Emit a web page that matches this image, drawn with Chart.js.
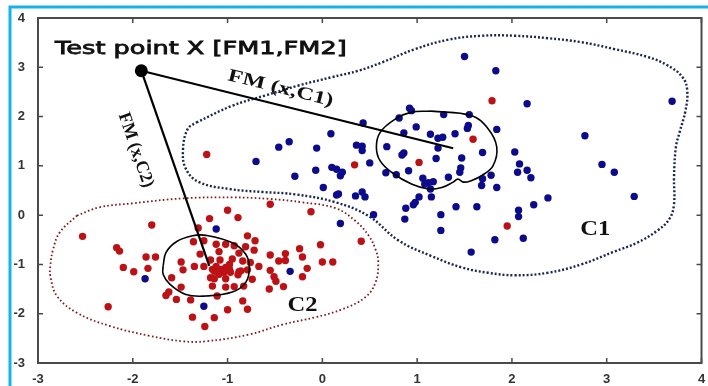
<!DOCTYPE html>
<html><head><meta charset="utf-8">
<script src="https://cdn.jsdelivr.net/npm/chart.js@4.4.1/dist/chart.umd.min.js"></script>
<style>html,body{margin:0;padding:0;background:#fff;overflow:hidden}canvas{display:block}</style>
</head><body>
<canvas id="c" width="708" height="386"></canvas>
<script>
const xTicks = [-3,-2,-1,0,1,2,3,4];
const yTicks = [-3,-2,-1,0,1,2,3,4];

const bluePoints = [
[1.50,3.22],[1.83,2.93],[2.16,2.26],[3.69,2.31],[0.92,2.17],[0.94,2.12],[0.81,1.97],[1.28,2.04],[1.55,2.04],[0.43,1.87],
[0.99,1.79],[1.54,1.82],[1.53,1.76],[1.84,1.74],[0.86,1.67],[1.14,1.64],[1.40,1.65],[1.22,1.56],[1.27,1.58],[2.77,1.61],
[0.36,1.42],[0.42,1.40],[0.42,1.31],[0.68,1.39],[1.22,1.36],[0.86,1.26],[0.84,1.22],[1.69,1.27],[2.03,1.28],[1.20,1.15],
[1.47,1.16],[0.50,1.06],[2.08,1.04],[2.95,1.03],[0.91,0.90],[1.46,0.96],[1.45,0.87],[0.67,0.86],[0.78,0.82],[2.06,0.87],
[2.16,0.91],[3.08,0.87],[1.78,0.81],[1.33,0.77],[1.06,0.75],[2.20,0.76],[1.69,0.74],[1.68,0.60],[1.08,0.63],[1.17,0.68],
[1.12,0.66],[1.84,0.56],[1.14,0.53],[0.42,0.47],[0.35,0.39],[0.45,0.37],[1.02,0.37],[1.15,0.37],[2.38,0.35],[3.29,0.38],
[0.54,0.01],[0.88,0.14],[0.98,0.26],[0.96,0.21],[0.87,-0.08],[1.25,0.01],[1.25,-0.31],[1.41,0.17],[1.63,0.17],[2.07,0.10],
[2.07,-0.03],[2.23,0.21],[1.82,-0.50],[2.12,-0.47],[1.57,-0.75],[0.15,0.41],[0.17,0.43],[0.19,-0.17],[0.09,1.65],[0.10,0.97],
[0.15,0.93],[0.21,0.87],[0.19,0.80],[-0.70,1.09],[-0.46,1.38],[-0.35,1.49],[-0.06,1.36],[-0.07,0.91],[-0.29,0.79],[0.01,0.56],
[-1.12,-0.28],[-1.87,-1.29],[-1.25,-1.85],[-0.34,-1.14]
];

const redPoints = [
[-1.22,1.23],[0.34,1.02],[1.02,1.07],[1.59,1.54],[1.79,2.32],[1.95,-0.22],[0.41,-0.53],
[-0.55,0.22],[-1.00,0.10],[-1.19,-0.07],[-0.89,-0.05],[-0.12,0.07],[-1.80,-0.20],[-1.31,-0.26],[-2.53,-0.43],[-0.79,-0.42],
[-0.71,-0.52],[-1.36,-0.54],[-1.25,-0.52],[-1.12,-0.59],[-1.02,-0.59],[-0.93,-0.62],[-2.17,-0.66],[-2.14,-0.73],[-1.09,-0.74],
[-0.81,-0.64],[-0.72,-0.71],[-0.02,-0.60],[-0.24,-0.68],[-0.55,-0.81],[-0.39,-0.78],[-1.86,-0.85],[-1.76,-0.85],[-1.29,-0.79],
[-0.88,-0.77],[-0.21,-0.85],[-1.49,-0.95],[-1.18,-0.91],[-1.08,-0.91],[-0.95,-0.89],[-0.76,-0.96],[-0.46,-0.93],[-0.39,-0.92],
[0.00,-0.95],[0.11,-0.95],[-2.10,-1.06],[-1.84,-1.08],[-1.47,-1.11],[-1.35,-1.04],[-1.25,-1.04],[-1.16,-1.10],[-1.12,-1.04],
[-1.07,-1.10],[-1.04,-1.16],[-0.98,-1.10],[-0.88,-1.15],[-0.79,-1.11],[-0.67,-1.04],[-0.55,-1.12],[-0.16,-1.08],[-1.99,-1.15],
[-1.59,-1.27],[-1.14,-1.29],[-1.02,-1.29],[-0.89,-1.21],[-0.74,-1.30],[-0.51,-1.25],[-0.49,-1.34],[-0.21,-1.25],[-1.49,-1.46],
[-1.62,-1.56],[-1.65,-1.63],[-1.16,-1.44],[-1.02,-1.46],[-0.93,-1.45],[-0.83,-1.44],[-0.56,-1.50],[-0.41,-1.45],[-1.54,-1.71],
[-1.39,-1.72],[-1.11,-1.64],[-0.84,-1.74],[-2.26,-1.86],[-1.00,-1.92],[-0.79,-1.91],[-1.37,-2.07],[-1.14,-2.08],[-1.24,-2.26],
[-0.98,-1.00],[-0.84,-0.93],[-1.11,-1.13],[-1.05,-1.12],[-1.02,-1.06],[-0.97,-1.16],[-0.86,-1.13],[-1.18,-1.27],[-1.14,-1.14],[-1.09,-1.20]
];

const testPoint = [-1.91, 2.93];
const c1Center = [1.38, 1.356];
const c2Center = [-1.193, -1.03];

const c1Boundary = [
[-1.33,1.88],[-0.95,2.22],[-0.60,2.43],[-0.25,2.63],[0.10,2.80],[0.38,2.93],[0.63,3.10],[0.98,3.37],[1.33,3.56],[1.68,3.64],
[2.03,3.64],[2.38,3.59],[2.73,3.51],[3.08,3.37],[3.43,3.21],[3.64,3.04],[3.80,2.80],[3.85,2.52],[3.83,2.11],[3.77,1.69],
[3.73,1.38],[3.71,0.77],[3.71,0.22],[3.66,-0.08],[3.53,-0.32],[3.32,-0.56],[3.08,-0.74],[2.73,-1.00],[2.38,-1.17],[2.03,-1.22],
[1.75,-1.17],[1.47,-1.06],[1.15,-0.83],[0.80,-0.51],[0.49,-0.02],[0.14,0.26],[-0.28,0.42],[-0.63,0.47],[-0.98,0.53],[-1.30,0.67],
[-1.44,0.94],[-1.47,1.34],[-1.42,1.75],[-1.33,1.88]
];
const c2Boundary = [
[-2.59,-0.01],[-2.35,0.16],[-2.00,0.24],[-1.47,0.34],[-0.95,0.36],[-0.56,0.33],[-0.21,0.26],[0.14,0.14],[0.35,-0.12],[0.49,-0.42],
[0.56,-0.69],[0.59,-0.96],[0.56,-1.37],[0.45,-1.67],[0.21,-1.91],[-0.07,-2.07],[-0.42,-2.22],[-0.77,-2.42],[-1.23,-2.56],[-1.47,-2.56],
[-1.82,-2.45],[-2.24,-2.25],[-2.59,-1.98],[-2.80,-1.64],[-2.87,-1.23],[-2.87,-1.03],[-2.84,-0.69],[-2.77,-0.35],[-2.59,-0.01]
];
const c1Circle = [
[1.15,2.11],[1.57,2.02],[1.75,1.75],[1.84,1.38],[1.80,1.00],[1.68,0.80],[1.57,0.70],[1.49,0.67],[1.43,0.73],[1.38,0.67],
[1.26,0.56],[1.12,0.53],[0.94,0.63],[0.73,0.87],[0.61,1.10],[0.57,1.38],[0.61,1.68],[0.77,1.95],[0.94,2.09],[1.15,2.11]
];
const c2Circle = [
[-1.68,-1.03],[-1.65,-0.76],[-1.54,-0.54],[-1.37,-0.42],[-1.23,-0.41],[-0.95,-0.56],[-0.81,-0.79],[-0.77,-1.06],[-0.81,-1.37],
[-0.95,-1.56],[-1.23,-1.64],[-1.44,-1.61],[-1.61,-1.40],[-1.68,-1.20],[-1.68,-1.03]
];

const titleText = 'Test point X [FM1,FM2]';
const titlePos = {x0:-2.82, x1:0.256, y:3.27};
const fm1Text = 'FM (x,C1)';
const fm1Pos = [-0.44, 2.57];
const fm2Text = 'FM (x,C2)';
const fm2Pos = [-1.97, 1.32];
const clusterLabels = [['C1', 2.88, -0.285], ['C2', -0.21, -1.84]];

const pts = a => a.map(p => ({x:p[0], y:p[1]}));

const BLUE = '#0b0b8c', RED = '#bc1216';

const bgPlugin = {
  id:'bg',
  beforeDraw(chart){
    const ctx = chart.ctx;
    ctx.save();
    ctx.fillStyle = '#fff';
    ctx.fillRect(0,0,chart.width,chart.height);
    ctx.strokeStyle = '#16b2ea';
    ctx.lineWidth = 3;
    ctx.beginPath();
    ctx.moveTo(10, chart.height); ctx.lineTo(10, 7); ctx.lineTo(chart.width, 7);
    ctx.stroke();
    ctx.restore();
  },
  beforeDatasetsDraw(chart){
    const {ctx, chartArea:a, scales:{x,y}} = chart;
    ctx.save();
    ctx.strokeStyle = '#4a4a4a';
    ctx.lineWidth = 2;
    ctx.strokeRect(a.left, a.top, a.right-a.left, a.bottom-a.top);
    ctx.lineWidth = 1.5;
    ctx.beginPath();
    xTicks.forEach(v => {
      const px = x.getPixelForValue(v);
      ctx.moveTo(px, a.bottom); ctx.lineTo(px, a.bottom-5);
      ctx.moveTo(px, a.top); ctx.lineTo(px, a.top+5);
    });
    yTicks.forEach(v => {
      const py = y.getPixelForValue(v);
      ctx.moveTo(a.left, py); ctx.lineTo(a.left+5, py);
      ctx.moveTo(a.right, py); ctx.lineTo(a.right-5, py);
    });
    ctx.stroke();
    ctx.restore();
  }
};

function drawFit(ctx, text, cx, cy, angle, font, len, align, thick){
  ctx.save();
  ctx.translate(cx, cy);
  ctx.rotate(angle);
  ctx.font = font;
  const w = ctx.measureText(text).width;
  ctx.scale(len ? len / w : 1, 1);
  ctx.textAlign = align || 'center';
  ctx.textBaseline = align ? 'alphabetic' : 'middle';
  ctx.fillStyle = '#111';
  ctx.fillText(text, 0, 0);
  if (thick) { ctx.strokeStyle = '#111'; ctx.lineWidth = thick; ctx.strokeText(text, 0, 0); }
  ctx.restore();
}

const labelPlugin = {
  id:'labels',
  afterDatasetsDraw(chart){
    const {ctx, scales:{x,y}} = chart;
    const X = v => x.getPixelForValue(v), Y = v => y.getPixelForValue(v);
    drawFit(ctx, titleText, X(titlePos.x0), Y(titlePos.y), 0, '18px "DejaVu Sans"', X(titlePos.x1)-X(titlePos.x0), 'left', 0.8);
    const a1 = Math.atan2(Y(c1Center[1])-Y(testPoint[1]), X(c1Center[0])-X(testPoint[0]));
    const a2 = Math.atan2(Y(c2Center[1])-Y(testPoint[1]), X(c2Center[0])-X(testPoint[0]));
    drawFit(ctx, fm1Text, X(fm1Pos[0]), Y(fm1Pos[1]), a1, 'bold 18px "Liberation Serif"', 108);
    drawFit(ctx, fm2Text, X(fm2Pos[0]), Y(fm2Pos[1]), a2, 'bold 18px "Liberation Serif"', 78);
    clusterLabels.forEach(l => drawFit(ctx, l[0], X(l[1]), Y(l[2]), 0, 'bold 21px "Liberation Serif"', 30));
  }
};

const tickFont = {family:'"Liberation Sans", Arial, sans-serif', size:13, weight:'bold'};

new Chart(document.getElementById('c'), {
  type:'scatter',
  data:{datasets:[
    {data:pts([testPoint]), pointRadius:6.5, backgroundColor:'#000', borderWidth:0, order:0},
    {data:pts([testPoint, c1Center]), showLine:true, borderColor:'#000', borderWidth:2, pointRadius:0, order:1},
    {data:pts([testPoint, c2Center]), showLine:true, borderColor:'#000', borderWidth:2.2, pointRadius:0, order:1},
    {data:pts(c1Circle), showLine:true, borderColor:'#000', borderWidth:1.6, pointRadius:0, tension:0.4, order:2},
    {data:pts(c2Circle), showLine:true, borderColor:'#000', borderWidth:1.6, pointRadius:0, tension:0.4, order:2},
    {data:pts(bluePoints), pointRadius:3.7, backgroundColor:BLUE, borderColor:BLUE, borderWidth:0, order:3},
    {data:pts(redPoints), pointRadius:3.7, backgroundColor:RED, borderColor:RED, borderWidth:0, order:3},
    {data:pts(c1Boundary), showLine:true, borderColor:'#1a2550', borderWidth:2.4, borderDash:[2,2], pointRadius:0, tension:0.4, order:4},
    {data:pts(c2Boundary), showLine:true, borderColor:'#7e1a1a', borderWidth:1.8, borderDash:[1.6,2.4], pointRadius:0, tension:0.4, order:4}
  ]},
  options:{
    responsive:false, animation:false, devicePixelRatio:1,
    layout:{padding:{top:18, right:4, left:0, bottom:0}},
    plugins:{legend:{display:false}, tooltip:{enabled:false}},
    elements:{point:{hoverRadius:0}},
    scales:{
      x:{type:'linear', min:-3, max:4,
        afterBuildTicks:s => { s.ticks = xTicks.map(v => ({value:v})); },
        afterFit:s => { s.height = 23; s.paddingLeft = 0; s.paddingRight = 0; },
        ticks:{font:tickFont, color:'#333', padding:9, autoSkip:false, maxRotation:0},
        grid:{display:false, drawTicks:false}, border:{display:false}},
      y:{type:'linear', min:-3, max:4,
        afterBuildTicks:s => { s.ticks = yTicks.map(v => ({value:v})); },
        afterFit:s => { s.width = 38; s.paddingTop = 0; s.paddingBottom = 0; },
        ticks:{font:tickFont, color:'#333', padding:13, autoSkip:false},
        grid:{display:false, drawTicks:false}, border:{display:false}}
    }
  },
  plugins:[bgPlugin, labelPlugin]
});
</script>
</body></html>
